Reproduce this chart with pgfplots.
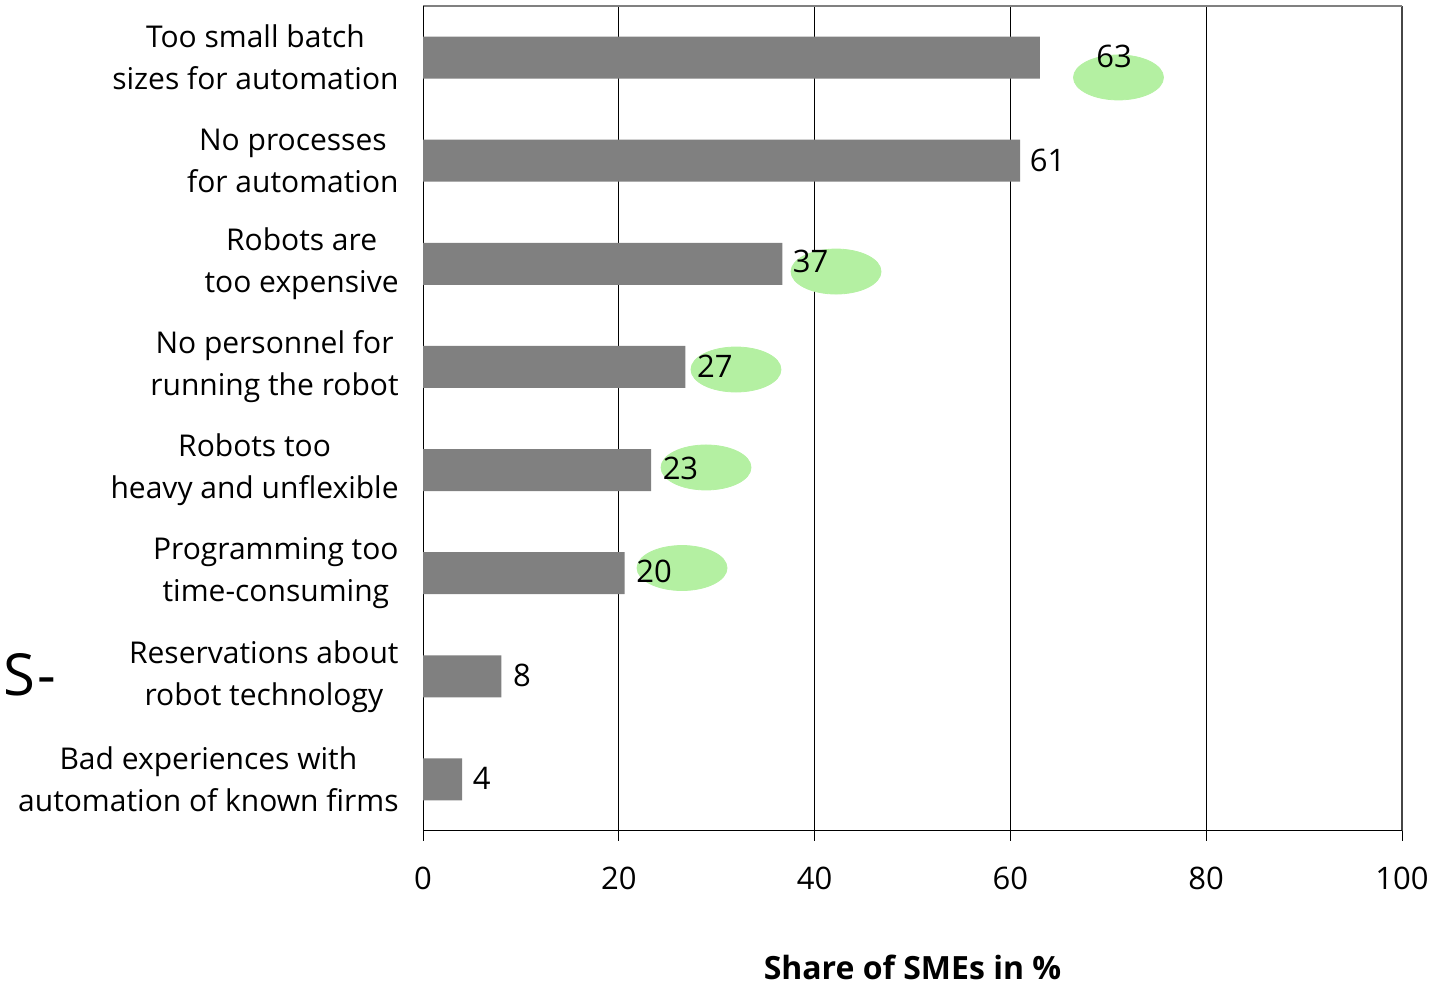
\documentclass[border=0pt]{standalone}
\usepackage{fontspec}
\setmainfont{Open Sans}
\usepackage{pgfplots}
\pgfplotsset{compat=1.18}
\definecolor{barfill}{RGB}{128,128,128}
\definecolor{blob}{RGB}{180,240,162}
\definecolor{edge}{RGB}{70,70,70}
\newcommand{\lblfont}{\fontsize{15pt}{21pt}\selectfont}
\newcommand{\numfont}{\fontsize{15.5pt}{21pt}\selectfont}
\begin{document}
\begin{tikzpicture}
\path (0,0) rectangle (723.5pt,491pt);
\begin{axis}[
  set layers=standard,
  at={(211.5pt,75.5pt)}, anchor=south west,
  scale only axis, width=489.5pt, height=412.5pt,
  xmin=0, xmax=100, ymin=0.5, ymax=8.5,
  axis lines=left, axis line style={-, black, line width=0.5pt},
  xtick={0,20,40,60,80,100},
  xmajorgrids, major grid style={black, line width=0.5pt},
  tick align=outside, major tick length=5pt,
  x tick style={black, line width=0.5pt},
  y tick style={draw=none},
  ytick={1,2,3,4,5,6,7,8},
  yticklabels={
    {Bad experiences with\\automation of known firms},
    {Reservations about\\robot technology},
    {Programming too\\time-consuming},
    {Robots too\\heavy and unflexible},
    {No personnel for\\running the robot},
    {Robots are\\too expensive},
    {No processes\\for automation},
    {Too small batch\\sizes for automation}},
  yticklabel style={align=center, font=\lblfont, inner sep=0pt, xshift=-7pt},
  xticklabel style={font=\numfont, yshift=-9.6pt},
  /pgf/number format/assume math mode=true,
  extra y ticks={8.5}, extra y tick labels={},
  extra y tick style={ymajorgrids, major grid style={gray, line width=0.75pt}},
  extra x ticks={100}, extra x tick labels={},
  extra x tick style={xmajorgrids, major grid style={edge, line width=1pt}},
  xlabel={\textbf{Share of SMEs in \%}},
  xlabel style={font=\fontsize{16pt}{20pt}\selectfont, at={(axis description cs:0.5,0)}, anchor=center, yshift=-68pt},
  clip=false,
]
% highlight blobs behind some labels
\addplot[blob, mark layer=axis background, only marks, mark=*, mark size=11.25pt,
  mark options={xscale=2, fill=blob, draw=blob}] coordinates {
  (71.04,7.807) (42.19,5.925) (31.97,4.975) (28.91,4.025) (26.46,3.05)
};
\addplot[xbar, bar width=0.407, fill=barfill, draw=none] coordinates {
  (63,8) (61,7) (36.7,6) (26.8,5) (23.3,4) (20.6,3) (8,2) (4,1)
};
% value labels
\addplot[draw=none, mark=none, nodes near coords, point meta=explicit symbolic,
  every node near coord/.style={anchor=center, font=\numfont, inner sep=0pt}] coordinates {
  (70.6,8.015) [63] (63.8,7.007) [61] (39.6,6.02) [37] (29.8,5.01) [27]
  (26.3,4.02) [23] (23.6,3.02) [20] (10.1,2.01) [8] (6.0,1.01) [4]
};
\end{axis}
\node[anchor=west, inner sep=0pt, font=\fontsize{29pt}{32pt}\selectfont] at (1.5pt,153.5pt) {S\kern1pt-};
\end{tikzpicture}
\end{document}
